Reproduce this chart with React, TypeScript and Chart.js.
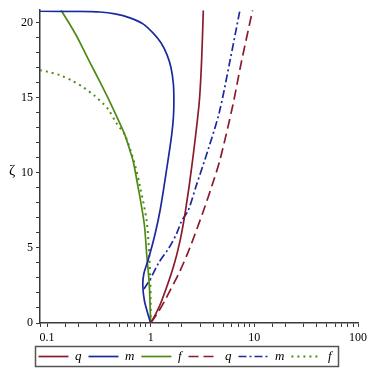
import { useEffect, useRef } from "react";
import { Chart, registerables } from "chart.js";

Chart.register(...registerables);

// ---- data (x on log scale, ζ on y) ----
const qSolidX = [1, 1.12, 1.28, 1.65, 1.92, 2.17, 2.5, 2.94, 3.1, 3.22];
const qSolidY = [0, 0.6, 1.5, 3.7, 5.47, 7.5, 10.5, 14.7, 17.5, 20.85];

const mSolidX = [1, 0.94, 0.87, 0.84, 0.86, 0.95, 1.1, 1.24, 1.43, 1.594, 1.66, 1.675, 1.655, 1.57, 1.436, 1.257, 1.052, 0.843, 0.631, 0.453, 0.324, 0.208, 0.0856];
const mSolidY = [0, 0.6, 1.5, 2.5, 3.3, 4.25, 5.9, 7.6, 10.3, 12.52, 13.8, 14.9, 15.95, 17.03, 17.89, 18.68, 19.34, 19.94, 20.34, 20.6, 20.73, 20.77, 20.78];

const fSolidX = [1, 0.969, 0.915, 0.871, 0.801, 0.759, 0.68, 0.631, 0.565, 0.489, 0.405, 0.328, 0.26, 0.222, 0.193, 0.163, 0.1365];
const fSolidY = [0, 2.6, 4.59, 6.5, 8.11, 9.0, 10.75, 11.5, 12.52, 13.5, 14.72, 16.0, 17.36, 18.3, 19.13, 20.0, 20.85];

const qDashX = [1, 1.15, 1.37, 1.92, 2.39, 3.22, 4.02, 4.66, 6.15, 7.54, 9.62];
const qDashY = [0, 0.6, 1.5, 3.48, 5.02, 7.45, 9.43, 10.87, 14.4, 17.47, 20.85];

const mDashX = [0.862, 0.985, 1.2, 1.5, 1.79, 1.99, 2.3, 2.77, 3.6, 4.6, 5.82, 7.26];
const mDashY = [2.27, 2.89, 4.03, 5.0, 6.0, 6.8, 7.5, 9.21, 11.6, 14.06, 17.47, 20.85];

const fDotX = [1, 1.0, 0.99, 0.97, 0.915, 0.789, 0.706, 0.565, 0.47, 0.39, 0.349, 0.286, 0.224, 0.175, 0.133, 0.0993, 0.0856];
const fDotY = [0, 1.5, 3.0, 4.5, 6.8, 9.1, 10.53, 12.52, 13.3, 14.24, 14.61, 15.16, 15.71, 16.15, 16.52, 16.77, 16.85];

const seriesLabels = ["q", "m", "f", "q", "m", "f"];
const xTickLabels = [0.1, 1, 10, 100];
const yTickLabels = [0, 5, 10, 15, 20];
const yTitle = "ζ";
const xMin = 0.0856;
const xMax = 100;
const yMin = 0;
const yMax = 20.85;

const RED = "#8a1b2c";
const BLUE = "#1b2a9c";
const GREEN = "#4f8a16";
const AXIS = "#3a3a3a";
const LEGEND_FONT = { family: '"Liberation Serif"', size: 13, style: "italic" as const };
const LEGEND_SHIFT = 6;

function pts(xs: number[], ys: number[]) {
  return xs.map((x, i) => ({ x, y: ys[i] }));
}

const yTitlePlugin = {
  id: "yTitleUpright",
  afterDraw(chart: any) {
    const ctx = chart.ctx;
    const ys = chart.scales.y;
    ctx.save();
    ctx.font = '15px "Liberation Serif"';
    ctx.fillStyle = "#000";
    ctx.textAlign = "center";
    ctx.textBaseline = "middle";
    ctx.fillText(yTitle, 12, ys.getPixelForValue(10) - 2);
    ctx.restore();
  },
};

const legendShiftPlugin = {
  id: "legendShift",
  afterLayout(chart: any) {
    const lg = chart.legend;
    if (!lg) return;
    lg.left += LEGEND_SHIFT;
    lg.right += LEGEND_SHIFT;
    (lg.legendHitBoxes || []).forEach((hb: any) => {
      hb.left += LEGEND_SHIFT;
    });
  },
};

const legendBoxPlugin = {
  id: "legendBox",
  afterDraw(chart: any) {
    const lg = chart.legend;
    if (!lg || !lg.legendHitBoxes || !lg.legendHitBoxes.length) return;
    const hb = lg.legendHitBoxes;
    const first = hb[0];
    const last = hb[hb.length - 1];
    const ctx = chart.ctx;
    ctx.save();
    ctx.font = `italic ${LEGEND_FONT.size}px ${LEGEND_FONT.family}`;
    const tw = ctx.measureText(seriesLabels[seriesLabels.length - 1]).width;
    const left = first.left - 3;
    const right = last.left + 30 + LEGEND_FONT.size / 2 + tw + 7;
    let cy = first.top + LEGEND_FONT.size / 2;
    if (!isFinite(cy) || cy > chart.height) cy = lg.top + lg.options.labels.padding + LEGEND_FONT.size / 2;
    ctx.strokeStyle = "#555";
    ctx.lineWidth = 1.5;
    ctx.strokeRect(left, cy - 10, right - left, 20);
    ctx.restore();
  },
};

export default function App() {
  const ref = useRef<HTMLCanvasElement | null>(null);

  useEffect(() => {
    if (!ref.current) return;
    const mk = (label: string, xs: number[], ys: number[], color: string, dash: number[], width: number) => ({
      label,
      data: pts(xs, ys),
      showLine: true,
      borderColor: color,
      backgroundColor: color,
      borderWidth: width,
      borderDash: dash,
      pointRadius: 0,
      pointHoverRadius: 0,
      tension: 0.3,
      fill: false,
    });
    const chart = new Chart(ref.current, {
      type: "scatter",
      data: {
        datasets: [
          mk(seriesLabels[0], qSolidX, qSolidY, RED, [], 1.7),
          mk(seriesLabels[1], mSolidX, mSolidY, BLUE, [], 1.7),
          mk(seriesLabels[2], fSolidX, fSolidY, GREEN, [], 1.7),
          mk(seriesLabels[3], qDashX, qDashY, RED, [10, 5], 1.7),
          mk(seriesLabels[4], mDashX, mDashY, BLUE, [8, 3, 2, 3], 1.7),
          mk(seriesLabels[5], fDotX, fDotY, GREEN, [2, 4], 2),
        ] as any,
      },
      plugins: [yTitlePlugin, legendShiftPlugin, legendBoxPlugin],
      options: {
        responsive: false,
        animation: false,
        events: [],
        layout: { padding: { left: 0, right: 16, top: 7, bottom: 1 } },
        plugins: {
          tooltip: { enabled: false },
          title: { display: false },
          legend: {
            display: true,
            position: "bottom",
            labels: {
              usePointStyle: true,
              pointStyle: "line",
              pointStyleWidth: 30,
              boxWidth: 30,
              padding: 7,
              color: "#000",
              font: LEGEND_FONT,
              generateLabels: (chart: any) => {
                const items = Chart.defaults.plugins.legend.labels.generateLabels(chart);
                return items.map((it: any, i: number) => {
                  const ds: any = chart.data.datasets[i];
                  return {
                    ...it,
                    lineDash: ds.borderDash,
                    lineWidth: ds.borderWidth,
                    strokeStyle: ds.borderColor,
                    fillStyle: ds.borderColor,
                    pointStyle: "line",
                  };
                });
              },
            },
          },
        },
        scales: {
          x: {
            type: "logarithmic",
            min: xMin,
            max: xMax,
            border: { display: true, color: AXIS, width: 1.5 },
            grid: { display: true, drawOnChartArea: false, drawTicks: true, tickLength: 4, color: AXIS },
            ticks: {
              padding: 4,
              color: "#000",
              autoSkip: false,
              maxRotation: 0,
              font: { family: '"Liberation Serif"', size: 12 },
              callback: (v: any) => {
                const val = Number(v);
                const hit = xTickLabels.find((t) => Math.abs(Math.log10(val) - Math.log10(t)) < 1e-6);
                return hit !== undefined ? String(hit) : "";
              },
            },
            afterFit: (s: any) => {
              s.height = 20;
            },
          },
          y: {
            type: "linear",
            min: yMin,
            max: yMax,
            border: { display: true, color: AXIS, width: 1.5 },
            grid: { display: true, drawOnChartArea: false, drawTicks: true, tickLength: 4, color: AXIS },
            ticks: {
              stepSize: 1,
              includeBounds: false,
              padding: 3,
              color: "#000",
              autoSkip: false,
              font: { family: '"Liberation Serif"', size: 12 },
              callback: (v: any) => {
                const val = Number(v);
                const hit = yTickLabels.find((t) => Math.abs(val - t) < 1e-6);
                return hit !== undefined ? String(hit) : "";
              },
            },
            afterFit: (s: any) => {
              s.width = 40;
            },
          },
        },
      } as any,
    });
    return () => chart.destroy();
  }, []);

  return (
    <div style={{ position: "absolute", left: 0, top: 0, width: 374, height: 374, background: "#fff" }}>
      <canvas ref={ref} width={374} height={374} style={{ width: 374, height: 374, display: "block" }} />
    </div>
  );
}
